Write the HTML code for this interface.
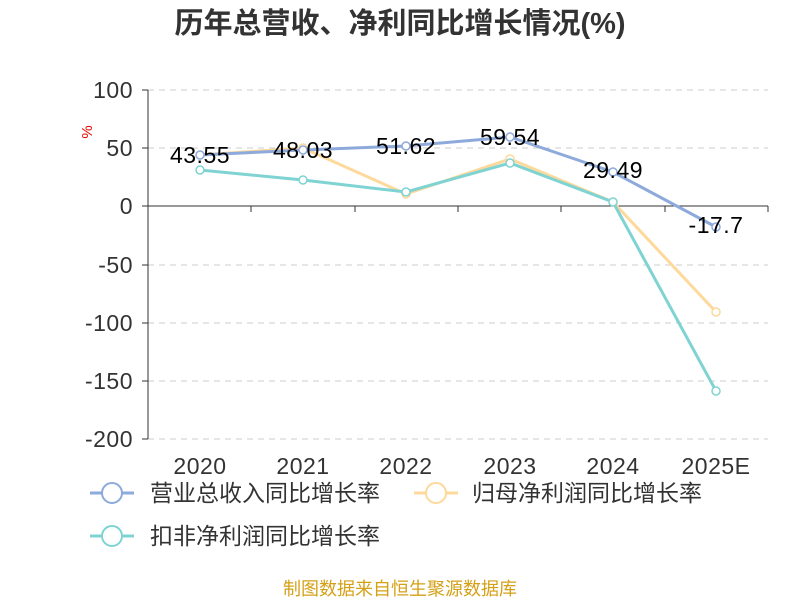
<!DOCTYPE html>
<html><head><meta charset="utf-8"><style>
body{margin:0;background:#fff;}
svg text{font-family:"Liberation Sans","Noto Sans CJK SC",sans-serif;}
</style></head><body>
<svg width="800" height="600" xmlns="http://www.w3.org/2000/svg">
<text x="400" y="33" text-anchor="middle" font-size="29" font-weight="bold" fill="#333">历年总营收、净利同比增长情况(%)</text>
<text x="92" y="132" font-size="15" fill="#e00" transform="rotate(-90 92 132)" text-anchor="middle">%</text>
<g stroke="#ccc" stroke-dasharray="6,5" stroke-width="1">
<line x1="148" y1="90" x2="768" y2="90"/>
<line x1="148" y1="148" x2="768" y2="148"/>
<line x1="148" y1="265" x2="768" y2="265"/>
<line x1="148" y1="323" x2="768" y2="323"/>
<line x1="148" y1="381" x2="768" y2="381"/>
<line x1="148" y1="439" x2="768" y2="439"/>
</g>
<line x1="148" y1="90" x2="148" y2="439" stroke="#333"/>
<line x1="148" y1="206" x2="768" y2="206" stroke="#333"/>
<g stroke="#333">
<line x1="148" y1="206" x2="148" y2="212"/><line x1="251" y1="206" x2="251" y2="212"/><line x1="355" y1="206" x2="355" y2="212"/><line x1="458" y1="206" x2="458" y2="212"/><line x1="561" y1="206" x2="561" y2="212"/><line x1="665" y1="206" x2="665" y2="212"/><line x1="768" y1="206" x2="768" y2="212"/>
<line x1="142" y1="90" x2="148" y2="90"/><line x1="142" y1="148" x2="148" y2="148"/><line x1="142" y1="206" x2="148" y2="206"/><line x1="142" y1="265" x2="148" y2="265"/><line x1="142" y1="323" x2="148" y2="323"/><line x1="142" y1="381" x2="148" y2="381"/><line x1="142" y1="439" x2="148" y2="439"/>
</g>
<g font-size="23" fill="#333" text-anchor="end" letter-spacing="0.5">
<text x="133" y="98">100</text><text x="133" y="156">50</text><text x="133" y="214">0</text><text x="133" y="273">-50</text><text x="133" y="331">-100</text><text x="133" y="389">-150</text><text x="133" y="447">-200</text>
</g>
<g font-size="23" fill="#333" text-anchor="middle" letter-spacing="0.5">
<text x="200" y="474">2020</text><text x="303" y="474">2021</text><text x="406" y="474">2022</text><text x="510" y="474">2023</text><text x="613" y="474">2024</text><text x="716" y="474">2025E</text>
</g>
<polyline fill="none" stroke="#fdd99b" stroke-width="3" points="200,155 303,148 406,194 510,159 613,202 716,312"/>
<polyline fill="none" stroke="#8eaadb" stroke-width="3" points="200,155 303,150 406,146 510,137 613,172 716,227"/>
<polyline fill="none" stroke="#7fd3d3" stroke-width="3" points="200,170 303,180 406,192 510,163 613,202 716,391"/>
<g fill="#fff" stroke-width="1.5">
<g stroke="#fdd99b"><circle cx="200" cy="155" r="4"/><circle cx="303" cy="148" r="4"/><circle cx="406" cy="194" r="4"/><circle cx="510" cy="159" r="4"/><circle cx="613" cy="202" r="4"/><circle cx="716" cy="312" r="4"/></g>
<g stroke="#8eaadb"><circle cx="200" cy="155" r="4"/><circle cx="303" cy="150" r="4"/><circle cx="406" cy="146" r="4"/><circle cx="510" cy="137" r="4"/><circle cx="613" cy="172" r="4"/><circle cx="716" cy="227" r="4"/></g>
<g stroke="#7fd3d3"><circle cx="200" cy="170" r="4"/><circle cx="303" cy="180" r="4"/><circle cx="406" cy="192" r="4"/><circle cx="510" cy="163" r="4"/><circle cx="613" cy="202" r="4"/><circle cx="716" cy="391" r="4"/></g>
</g>
<g font-size="23" fill="#000" text-anchor="middle" letter-spacing="0.5">
<text x="200" y="163">43.55</text><text x="303" y="158">48.03</text><text x="406" y="154">51.62</text><text x="510" y="145">59.54</text><text x="613" y="178">29.49</text><text x="716" y="233">-17.7</text>
</g>
<g stroke-width="3" fill="#fff">
<line x1="90" y1="493" x2="134" y2="493" stroke="#8eaadb"/><circle cx="112" cy="493" r="10" stroke="#8eaadb" stroke-width="2"/>
<line x1="414" y1="493" x2="458" y2="493" stroke="#fdd99b"/><circle cx="436" cy="493" r="10" stroke="#fdd99b" stroke-width="2"/>
<line x1="90" y1="536" x2="134" y2="536" stroke="#7fd3d3"/><circle cx="112" cy="536" r="10" stroke="#7fd3d3" stroke-width="2"/>
</g>
<g font-size="23" fill="#333">
<text x="150" y="501">营业总收入同比增长率</text>
<text x="472" y="501">归母净利润同比增长率</text>
<text x="150" y="544">扣非净利润同比增长率</text>
</g>
<text x="400" y="595" text-anchor="middle" font-size="18" fill="#d4a017">制图数据来自恒生聚源数据库</text>
</svg>
</body></html>
